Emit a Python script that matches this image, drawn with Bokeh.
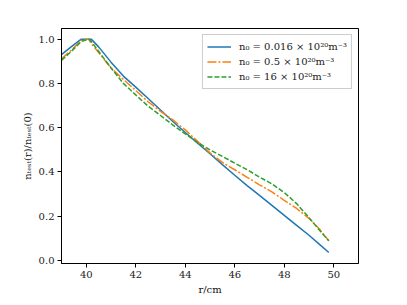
from bokeh.plotting import figure
from bokeh.embed import file_html
from bokeh.resources import INLINE
from bokeh.models import FixedTicker, Legend, LegendItem

r = [39.0, 39.4, 39.8, 40.1, 40.2, 40.5, 41.0, 41.5, 42.0, 42.5, 43.0, 43.5, 44.0, 44.5,
     45.0, 45.5, 46.0, 46.5, 47.0, 47.5, 48.0, 48.5, 49.0, 49.4, 49.8]
n_a = [0.93, 0.966, 1.0, 1.0, 1.0, 0.965, 0.896, 0.833, 0.783, 0.732, 0.68, 0.628, 0.578, 0.53,
       0.482, 0.433, 0.385, 0.338, 0.294, 0.249, 0.204, 0.159, 0.114, 0.075, 0.036]
n_b = [0.911, 0.95, 0.995, 1.0, 0.98, 0.94, 0.87, 0.818, 0.768, 0.717, 0.674, 0.635, 0.59, 0.538,
       0.486, 0.443, 0.41, 0.376, 0.342, 0.31, 0.272, 0.235, 0.19, 0.145, 0.089]
n_c = [0.904, 0.945, 0.99, 1.0, 0.99, 0.945, 0.87, 0.80, 0.748, 0.697, 0.655, 0.612, 0.572, 0.533,
       0.50, 0.47, 0.44, 0.41, 0.377, 0.346, 0.307, 0.257, 0.194, 0.14, 0.089]
labels = ["n₀ = 0.016 × 10²⁰m⁻³", "n₀ = 0.5 × 10²⁰m⁻³", "n₀ = 16 × 10²⁰m⁻³"]
x_ticks = [40, 42, 44, 46, 48, 50]
y_ticks = [0.0, 0.2, 0.4, 0.6, 0.8, 1.0]

FONT = "DejaVu Serif"

p = figure(width=391, height=297, output_backend="svg", toolbar_location=None,
           x_range=(39.0, 51.0), y_range=(-0.0135, 1.048))
p.min_border_left = 61
p.min_border_right = 33
p.min_border_top = 28
p.min_border_bottom = 34
p.xgrid.visible = False
p.ygrid.visible = False
p.outline_line_color = "black"
p.outline_line_width = 1
p.background_fill_color = "white"
p.border_fill_color = "white"

for ax in (p.xaxis, p.yaxis):
    ax.major_label_text_font = FONT
    ax.major_label_text_font_size = "10px"
    ax.major_label_text_color = "#222222"
    ax.axis_label_text_font = FONT
    ax.axis_label_text_font_size = "10px"
    ax.axis_label_text_font_style = "normal"
    ax.axis_label_text_color = "#111111"
    ax.minor_tick_line_color = None
    ax.major_tick_in = 0
    ax.major_tick_out = 4
    ax.axis_line_color = "black"
    ax.major_tick_line_color = "black"
    ax.major_label_standoff = 3
    ax.axis_label_standoff = 3

p.xaxis.ticker = FixedTicker(ticks=x_ticks)
p.yaxis.ticker = FixedTicker(ticks=y_ticks)
p.yaxis.major_label_overrides = {t: f"{t:.1f}" for t in y_ticks}
p.xaxis.axis_label = "r/cm"
p.yaxis.axis_label = "nₜₑₛₜ(r)/nₜₑₛₜ(0)"

l1 = p.line(r, n_a, line_color="#1f77b4", line_width=1.5)
l2 = p.line(r, n_b, line_color="#ff7f0e", line_width=1.5, line_dash="9 2 2 2")
l3 = p.line(r, n_c, line_color="#2ca02c", line_width=1.5, line_dash="5 2")

legend = Legend(items=[LegendItem(label=labels[0], renderers=[l1]),
                       LegendItem(label=labels[1], renderers=[l2]),
                       LegendItem(label=labels[2], renderers=[l3])],
                location="top_right")
legend.label_text_font = FONT
legend.label_text_font_size = "10px"
legend.label_text_color = "#222222"
legend.border_line_color = "#cccccc"
legend.border_line_alpha = 1
legend.background_fill_alpha = 0.8
legend.margin = 6
legend.padding = 4
legend.spacing = 0
legend.glyph_width = 24
legend.glyph_height = 15
legend.label_height = 15
legend.label_standoff = 8
p.add_layout(legend)

open("out.html", "w").write(file_html(p, INLINE))
